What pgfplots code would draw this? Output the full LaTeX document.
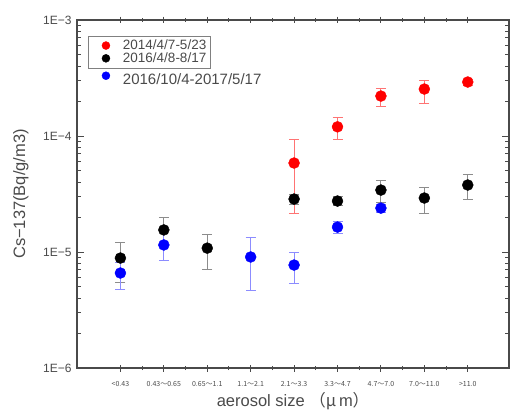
\documentclass[border=0pt]{standalone}
\usepackage{fontspec}
\setmainfont{Liberation Sans}
\newfontfamily\cjk{Noto Sans CJK JP}
\usepackage{pgfplots}
\usepackage{pgfplotstable}
\pgfplotsset{compat=1.18}

\definecolor{axgray}{HTML}{4A4A4A}

% x  y  ep  em  (errors plus / minus)
\pgfplotstableread{
x y ep em
4 5.85e-5 3.55e-5 3.68e-5
5 1.20e-4 2.6e-5 2.6e-5
6 2.21e-4 3.8e-5 4.0e-5
7 2.54e-4 5.0e-5 6.2e-5
8 2.92e-4 1.8e-5 1.7e-5
}\redtab
\pgfplotstableread{
x y ep em
0 8.87e-6 3.3e-6 3.4e-6
1 1.55e-5 4.5e-6 4.0e-6
2 1.08e-5 3.5e-6 3.7e-6
4 2.86e-5 3.0e-6 2.6e-6
5 2.75e-5 2.5e-6 2.0e-6
6 3.42e-5 7.6e-6 7.2e-6
7 2.92e-5 7.1e-6 7.5e-6
8 3.78e-5 9.2e-6 9.2e-6
}\blacktab
\pgfplotstableread{
x y ep em
0 6.59e-6 1.6e-6 1.8e-6
1 1.15e-5 4.0e-6 3.0e-6
3 9.06e-6 4.4e-6 4.4e-6
4 7.72e-6 2.3e-6 2.3e-6
5 1.64e-5 2.1e-6 1.8e-6
6 2.39e-5 2.1e-6 1.9e-6
}\bluetab

\begin{document}
\begin{tikzpicture}
\begin{axis}[
  at={(0,0)}, anchor=south west,
  scale only axis,
  width=432pt, height=348pt,
  ymode=log,
  xmin=-1, xmax=8.95,
  ymin=1e-6, ymax=1e-3,
  xtick={0,...,8},
  xticklabels={<0.43,0.43～0.65,0.65～1.1,1.1～2.1,2.1～3.3,3.3～4.7,4.7～7.0,7.0～11.0,>11.0},
  minor x tick num=1,
  ytick={1e-6,1e-5,1e-4,1e-3},
  yticklabels={1E−6,1E−5,1E−4,1E−3},
  xtick align=center,
  ytick align=inside,
  major tick length=7pt,
  minor tick length=4pt,
  axis line style={axgray, line width=1.4pt},
  every tick/.style={axgray, line width=1pt},
  xticklabel style={font=\cjk\fontsize{7}{8}\selectfont, anchor=center, yshift=-13pt, text=axgray},
  yticklabel style={font=\fontsize{12}{14}\selectfont, xshift=-2pt, text=axgray},
  every axis x label/.style={at={(axis description cs:0.5,-0.095)}, anchor=center},
  every axis y label/.style={at={(axis description cs:-0.13,0.5)}, rotate=90, anchor=center},
  xlabel={aerosol size {\cjk （μ}\,m{\cjk ）}},
  ylabel={Cs−137(Bq/g/m3)},
  label style={font=\fontsize{16.5}{18}\selectfont, text=axgray},
  legend cell align=left,
  legend style={draw=none, fill=none, at={(axis description cs:0.055,0.952)}, anchor=north west,
    font=\fontsize{13.5}{15}\selectfont, text=axgray, inner sep=1pt, row sep=-2.5pt},
  legend image post style={mark size=4pt},
  error bars/error bar style={line width=0.9pt},
]
\addplot[only marks, mark=*, mark size=5.5pt, color=red,
  error bars/.cd, y dir=both, y explicit,
  error bar style={red!55}, error mark options={red!55, rotate=90, mark size=5pt}]
  table[x=x, y=y, y error plus=ep, y error minus=em]{\redtab};
\addlegendentry{\hspace*{11pt}2014/4/7-5/23}
\addplot[only marks, mark=*, mark size=5.5pt, color=black,
  error bars/.cd, y dir=both, y explicit,
  error bar style={black!45}, error mark options={black!45, rotate=90, mark size=5pt}]
  table[x=x, y=y, y error plus=ep, y error minus=em]{\blacktab};
\addlegendentry{\hspace*{11pt}2016/4/8-8/17}
\addplot[only marks, mark=*, mark size=5.5pt, color=blue,
  error bars/.cd, y dir=both, y explicit,
  error bar style={blue!45}, error mark options={blue!45, rotate=90, mark size=5pt}]
  table[x=x, y=y, y error plus=ep, y error minus=em]{\bluetab};
\addlegendentry{\fontsize{15}{16}\selectfont\rule{0pt}{19pt}\hspace*{11pt}2016/10/4-2017/5/17}
\draw[gray, line width=0.9pt] (rel axis cs:0.0255,0.952) rectangle (rel axis cs:0.308,0.862);
\end{axis}
\pgfresetboundingbox
\path (-77pt,-44pt) rectangle (433pt,368pt);
\end{tikzpicture}
\end{document}
